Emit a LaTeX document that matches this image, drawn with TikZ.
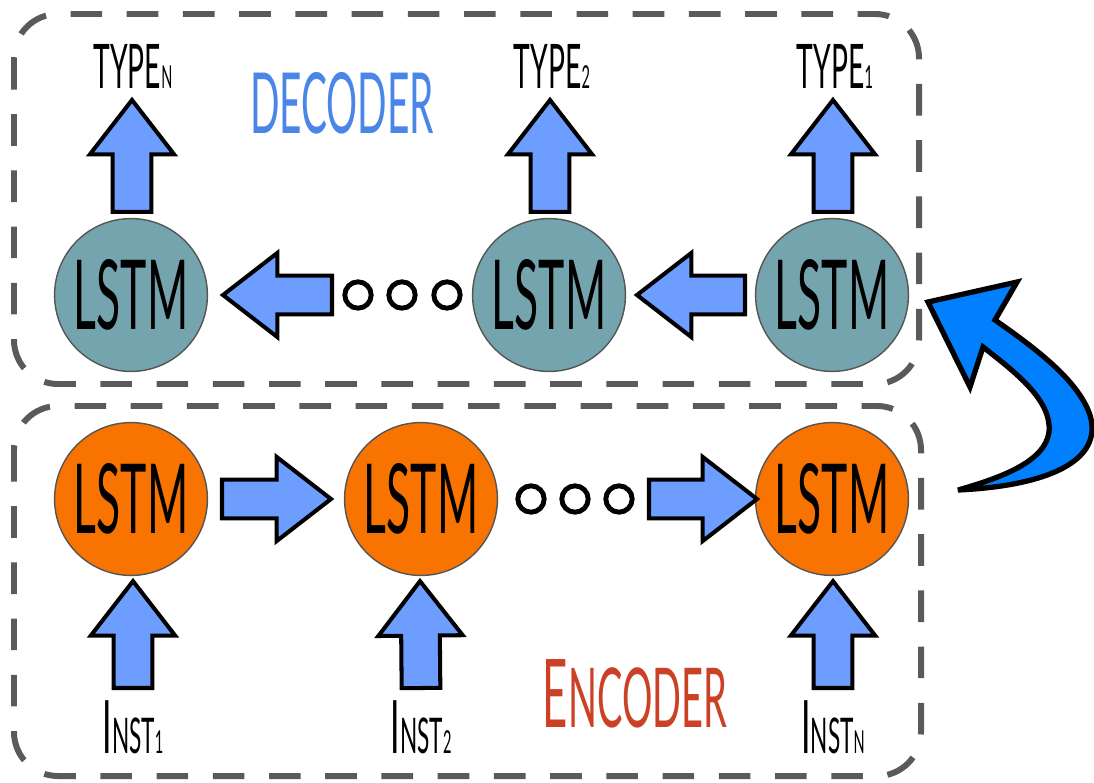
\documentclass[tikz,border=0pt]{standalone}
\usepackage{fontspec}
\usetikzlibrary{calc}
\newfontfamily\hand[FakeStretch=0.46]{Lato}

\definecolor{decfill}{HTML}{74A5AF}
\definecolor{encfill}{HTML}{F87300}
\definecolor{arrfill}{HTML}{6D9EFF}
\definecolor{bigarr}{HTML}{0080FF}
\definecolor{boxgray}{HTML}{5A5A5A}
\definecolor{rimgray}{HTML}{555555}
\definecolor{dectext}{HTML}{4A86E8}
\definecolor{enctext}{HTML}{CC4125}

% size helpers
\newcommand\fs[1]{\fontsize{#1}{#1}\selectfont}
\newcommand\subsc[1]{{\fs{18}#1}}

% block arrow from tail coordinate #1 to tip coordinate #2
\newcommand\blockarrow[2]{%
  \coordinate (ba-h) at ($(#2)!31pt!(#1)$);
  \draw[blockarr]
    ($(#1)!11pt!90:(#2)$) -- ($(ba-h)!11pt!-90:(#1)$) --
    ($(ba-h)!24pt!-90:(#1)$) -- (#2) --
    ($(ba-h)!24pt!90:(#1)$) -- ($(ba-h)!11pt!90:(#1)$) --
    ($(#1)!11pt!-90:(#2)$) -- cycle;}

\tikzset{
  panel/.style={draw=boxgray, line width=3.4pt, rounded corners=25pt,
    dash pattern=on 18pt off 14pt},
  cell/.style={circle, draw=rimgray, line width=0.8pt, minimum size=87pt,
    inner sep=0pt, font=\hand\fs{55}},
  decell/.style={cell, fill=decfill},
  encell/.style={cell, fill=encfill},
  blockarr/.style={fill=arrfill, draw=black, line width=2.3pt, line join=miter},
  dot/.style={circle, draw=black, line width=2.8pt, minimum size=15pt, inner sep=0pt},
  lab/.style={anchor=base, font=\hand, text=black},
}

\begin{document}
\begin{tikzpicture}[x=0.02cm, y=-0.02cm]
\useasboundingbox (0,0) rectangle (1094,782);

% dashed panels
\draw[panel] (14,14) rectangle (919,384);
\draw[panel] (14,406) rectangle (921,776);

% decoder cells
\node[decell] (d3) at (131,295) {LSTM};
\node[decell] (d2) at (549,295) {LSTM};
\node[decell] (d1) at (832,295) {LSTM};

% encoder cells
\node[encell] (e1) at (131,499) {LSTM};
\node[encell] (e2) at (421,499) {LSTM};
\node[encell] (e3) at (832,499) {LSTM};

% continuation dots
\node[dot] (dd1) at (358,295) {};
\node[dot] (dd2) at (402,295) {};
\node[dot] (dd3) at (447,295) {};
\node[dot] (ed1) at (531,499) {};
\node[dot] (ed2) at (575,499) {};
\node[dot] (ed3) at (619,499) {};

% labels
\node[lab] (t3) at (133,88) {\fs{35}TYPE\subsc{N}};
\node[lab] (t2) at (552,88) {\fs{35}TYPE\subsc{2}};
\node[lab] (t1) at (835,88) {\fs{35}TYPE\subsc{1}};
\node[lab] (i1) at (133,753) {\fs{42}I{\fs{28}NST}\subsc{1}};
\node[lab] (i2) at (421,753) {\fs{42}I{\fs{28}NST}\subsc{2}};
\node[lab] (i3) at (833,753) {\fs{42}I{\fs{28}NST}\subsc{N}};
\node[lab, text=dectext] (dec) at (342,133) {\fs{48}DECODER};
\node[lab, text=enctext] (enc) at (635,727) {\fs{54}E{\fs{47}NCODER}};

% arrow end points
\coordinate (o3t) at ($(d3.north)+(1,-6)$);  \coordinate (o3h) at ($(t3.base)+(-1,12)$);
\coordinate (o2t) at ($(d2.north)+(1,-6)$);  \coordinate (o2h) at ($(t2.base)+(-2,12)$);
\coordinate (o1t) at ($(d1.north)+(1,-6)$);  \coordinate (o1h) at ($(t1.base)+(-2,12)$);
\coordinate (a1t) at (332,295);  \coordinate (a1h) at (223,295);
\coordinate (a2t) at (745,295);  \coordinate (a2h) at (637,295);
\coordinate (b1t) at (222,499);  \coordinate (b1h) at (331,499);
\coordinate (b2t) at (649,499);  \coordinate (b2h) at (757,499);
\coordinate (n1t) at ($(i1.base)+(0,-65)$);  \coordinate (n1h) at ($(e1.south)+(2,5)$);
\coordinate (n2t) at ($(i2.base)+(0,-65)$);  \coordinate (n2h) at ($(e2.south)+(-1,5)$);
\coordinate (n3t) at ($(i3.base)+(0,-65)$);  \coordinate (n3h) at ($(e3.south)+(1,5)$);

% decoder outputs
\blockarrow{o3t}{o3h}
\blockarrow{o2t}{o2h}
\blockarrow{o1t}{o1h}
% decoder recurrence
\blockarrow{a1t}{a1h}
\blockarrow{a2t}{a2h}
% encoder recurrence
\blockarrow{b1t}{b1h}
\blockarrow{b2t}{b2h}
% encoder inputs
\blockarrow{n1t}{n1h}
\blockarrow{n2t}{n2h}
\blockarrow{n3t}{n3h}

% hand-over from encoder to decoder
\coordinate (hs) at (958,490);
\coordinate (hp) at (928,302);
\draw[fill=bigarr, draw=black, line width=3pt, line join=miter, miter limit=3]
  (hs) .. controls (1045,486) and (1104,462) .. (1090,415)
       .. controls (1078,380) and (1035,348) .. (995,320)
  -- (1017,282) -- (hp) -- (970,387) -- (983,347)
       .. controls (1015,372) and (1052,400) .. (1049,432)
       .. controls (1045,462) and (1000,478) .. (hs) -- cycle;
\end{tikzpicture}
\end{document}
